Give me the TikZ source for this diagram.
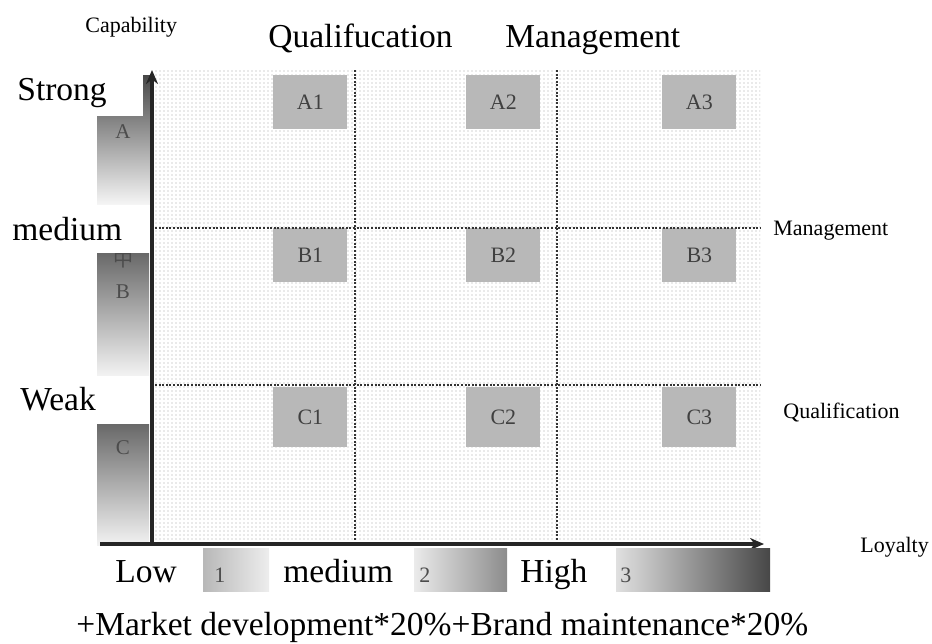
\documentclass[tikz,border=0pt]{standalone}
\usepackage{fontspec}
\setmainfont{Liberation Serif}
\newfontfamily\cjk{Noto Sans CJK SC}
\usetikzlibrary{patterns,arrows.meta}
\pgfdeclarepatternformonly{finedots}{\pgfqpoint{-1pt}{-1pt}}{\pgfqpoint{1pt}{1pt}}{\pgfqpoint{2pt}{2pt}}{\pgfpathcircle{\pgfqpoint{0pt}{0pt}}{0.36pt}\pgfusepath{fill}}
\tikzset{cell/.style={fill=black!28, minimum width=37pt, inner sep=0pt, anchor=north west, text=black!75, font=\fontsize{11}{13}\selectfont},
    bigtext/.style={font=\fontsize{16.75}{20}\selectfont, inner sep=0pt, anchor=base west},
    smalltext/.style={font=\fontsize{11}{13}\selectfont, inner sep=0pt, anchor=base west},
    bartext/.style={font=\fontsize{10.5}{12}\selectfont, inner sep=0pt, text=black!70},
    gridline/.style={black!80, line width=1.2pt, dash pattern=on 1pt off 0.8pt},
    axisline/.style={black!85, line width=2pt, -{Stealth[length=7pt,width=6pt]}}}

\begin{document}
\begin{tikzpicture}[x=0.5pt,y=-0.5pt]
    \useasboundingbox (0,0) rectangle (932,643);
    % capability bars
    \shade[top color=black!72,bottom color=black!4] (97,75) rectangle (150,204);
    \shade[top color=black!80,bottom color=black!5] (97,205) rectangle (149,375);
    \shade[top color=black!80,bottom color=black!5] (97,377) rectangle (149,545);
    \node[bartext] (barA) at (123,132) {A};
    \node[bartext, font=\cjk\fontsize{10}{12}\selectfont] (barzh) at (123,259) {中};
    \node[bartext] (barB) at (123,292) {B};
    \node[bartext] (barC) at (123,448) {C};
    \fill[white] (0,70) rectangle (143,116);
    \fill[white] (0,205) rectangle (150,253);
    \fill[white] (0,377) rectangle (150,424);
    \node[bigtext] (strong) at (17,100) {Strong};
    \node[bigtext] (medY) at (12,240) {medium};
    \node[bigtext] (weak) at (20,410) {Weak};

    % dotted field
    \fill[pattern=finedots, pattern color=black!35] (155,70) rectangle (760,541);
    \foreach \r/\y/\h in {A/75/54,B/228/54,C/387/60}{
        \foreach \c/\x in {1/273,2/466,3/662}{
            \node[cell, minimum height=\h*0.5pt] (\r\c) at (\x,\y) {\r\c};
        }
    }
    \foreach \x in {355,557}
        \draw[gridline] (\x,70) -- (\x,541);
    \foreach \y in {228,385}
        \draw[gridline] (155,\y) -- (760,\y);

    % axes
    \coordinate (origin) at (152,544);
    \coordinate (ytip) at (152,70);
    \coordinate (xstart) at (100,544);
    \coordinate (xtip) at (764,544);
    \draw[axisline] (origin) -- (ytip);
    \draw[axisline] (xstart) -- (xtip);

    % loyalty bars
    \shade[left color=black!28,right color=black!7] (203,548) rectangle (269,591);
    \shade[left color=black!8,right color=black!45] (414,548) rectangle (507,591);
    \shade[left color=black!12,right color=black!72] (616,548) rectangle (770,591);
    \node[bigtext] (low) at (115,582) {Low};
    \node[smalltext, text=black!70] (one) at (214,582) {1};
    \node[bigtext] (medX) at (283,582) {medium};
    \node[smalltext, text=black!70] (two) at (419,582) {2};
    \node[bigtext] (high) at (520,582) {High};
    \node[smalltext, text=black!70] (three) at (620,582) {3};

    % labels
    \node[smalltext] (capab) at (85,32) {Capability};
    \node[bigtext] (qualtop) at (268,47) {Qualifucation};
    \node[bigtext] (mgmttop) at (505,47) {Management};
    \node[smalltext] (mgmt) at (773,235) {Management};
    \node[smalltext] (qualif) at (783,418) {Qualification};
    \node[smalltext] (loyal) at (860,552) {Loyalty};
    \node[bigtext] (formula) at (76,635) {+Market development*20\%+Brand maintenance*20\%};
\end{tikzpicture}
\end{document}
